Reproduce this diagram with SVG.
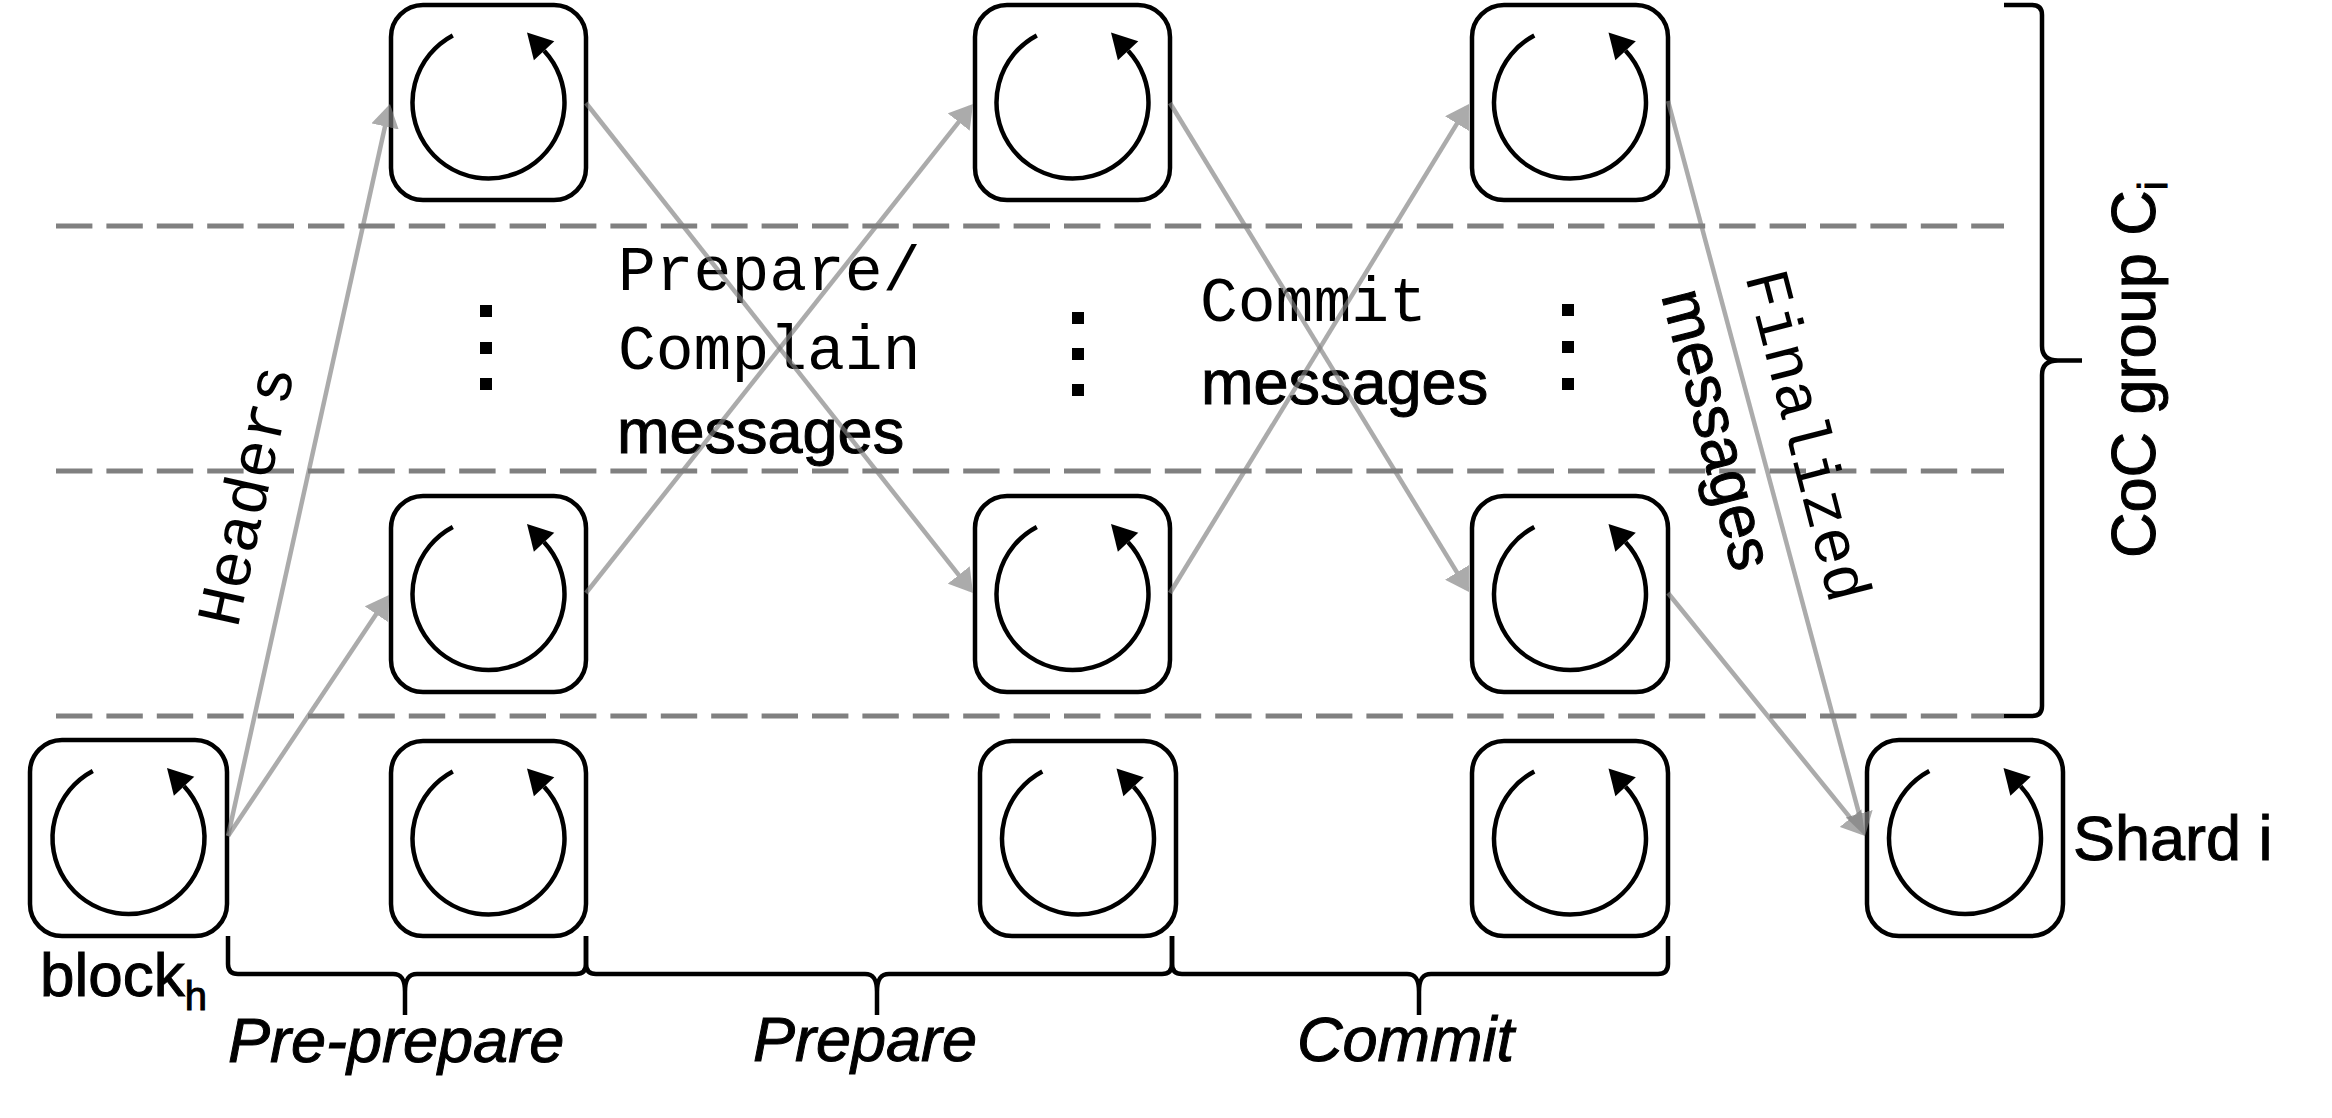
<svg xmlns="http://www.w3.org/2000/svg" xmlns:xlink="http://www.w3.org/1999/xlink" width="2332" height="1118" viewBox="0 0 2332 1118">
  <style>
    .box { fill: #fff; stroke: #000; stroke-width: 4.5; }
    .dash { stroke: #808080; stroke-width: 5; stroke-dasharray: 36.4 14; fill: none; }
    .brace { fill: none; stroke: #000; stroke-width: 4.5; stroke-linejoin: round; }
    .conn { opacity: 0.66; }
    .conn line { stroke: #808080; stroke-width: 4.5; marker-end: url(#arr); }
    .mono { font-family: "Liberation Mono", "Courier New", monospace; font-size: 63px; fill: #000; }
    .sans { font-family: "Liberation Sans", Arial, Helvetica, sans-serif; font-size: 63px; fill: #000; stroke: #000; stroke-width: 1; }
    .ital { font-style: italic; }
    .dot { fill: #000; }
  </style>
  <defs>
    <marker id="arr" markerUnits="userSpaceOnUse" viewBox="0 0 23 28" markerWidth="23" markerHeight="28" refX="19" refY="14" orient="auto">
      <path d="M0,0 L23,14 L0,28 z" fill="#808080"/>
    </marker>
    <g id="loop">
      <path d="M-35.7,-67.1 A76,76 0 1 0 55.6,-51.8" fill="none" stroke="#000" stroke-width="4.5"/>
      <polygon points="38.5,-70.1 65.8,-61.3 45.4,-42.3" fill="#000"/>
    </g>
  </defs>

  <rect x="0" y="0" width="2332" height="1118" fill="#fff"/>

  <g id="lanes">
    <line class="dash" x1="56" y1="226" x2="2004" y2="226"/>
    <line class="dash" x1="56" y1="471" x2="2004" y2="471"/>
    <line class="dash" x1="56" y1="716" x2="2004" y2="716"/>
  </g>

  <g id="node-blockh">
    <rect class="box" x="30" y="740" width="197" height="196" rx="32"/>
    <use xlink:href="#loop" href="#loop" transform="translate(128.5,838)"/>
  </g>
  <g id="node-b-top">
    <rect class="box" x="391" y="5" width="195" height="195" rx="32"/>
    <use xlink:href="#loop" href="#loop" transform="translate(488.5,102.5)"/>
  </g>
  <g id="node-b-mid">
    <rect class="box" x="391" y="496" width="195" height="196" rx="32"/>
    <use xlink:href="#loop" href="#loop" transform="translate(488.5,594)"/>
  </g>
  <g id="node-b-bot">
    <rect class="box" x="391" y="741" width="195" height="195" rx="32"/>
    <use xlink:href="#loop" href="#loop" transform="translate(488.5,838.5)"/>
  </g>
  <g id="node-c-top">
    <rect class="box" x="975" y="5" width="195" height="195" rx="32"/>
    <use xlink:href="#loop" href="#loop" transform="translate(1072.5,102.5)"/>
  </g>
  <g id="node-c-mid">
    <rect class="box" x="975" y="496" width="195" height="196" rx="32"/>
    <use xlink:href="#loop" href="#loop" transform="translate(1072.5,594)"/>
  </g>
  <g id="node-c-bot">
    <rect class="box" x="980" y="741" width="196" height="195" rx="32"/>
    <use xlink:href="#loop" href="#loop" transform="translate(1078,838.5)"/>
  </g>
  <g id="node-d-top">
    <rect class="box" x="1472" y="5" width="196" height="195" rx="32"/>
    <use xlink:href="#loop" href="#loop" transform="translate(1570,102.5)"/>
  </g>
  <g id="node-d-mid">
    <rect class="box" x="1472" y="496" width="196" height="196" rx="32"/>
    <use xlink:href="#loop" href="#loop" transform="translate(1570,594)"/>
  </g>
  <g id="node-d-bot">
    <rect class="box" x="1472" y="741" width="196" height="195" rx="32"/>
    <use xlink:href="#loop" href="#loop" transform="translate(1570,838.5)"/>
  </g>
  <g id="node-shard">
    <rect class="box" x="1867" y="740" width="196" height="196" rx="32"/>
    <use xlink:href="#loop" href="#loop" transform="translate(1965,838)"/>
  </g>

  <g id="ellipsis">
    <rect class="dot" x="480" y="305" width="12" height="12"/>
    <rect class="dot" x="480" y="342" width="12" height="12"/>
    <rect class="dot" x="480" y="378" width="12" height="12"/>
    <rect class="dot" x="1072" y="312" width="12" height="12"/>
    <rect class="dot" x="1072" y="348" width="12" height="12"/>
    <rect class="dot" x="1072" y="384" width="12" height="12"/>
    <rect class="dot" x="1562" y="304" width="12" height="12"/>
    <rect class="dot" x="1562" y="341" width="12" height="12"/>
    <rect class="dot" x="1562" y="378" width="12" height="12"/>
  </g>

  <g id="braces">
    <path class="brace" d="M228,936 L228,964 Q228,974 238,974 L393,974 C402,974 405,980 405,992 L405,1015 M405,992 C405,980 408,974 417,974 L576,974 Q586,974 586,964 L586,936"/>
    <path class="brace" d="M586,936 L586,964 Q586,974 596,974 L865,974 C874,974 877,980 877,992 L877,1015 M877,992 C877,980 880,974 889,974 L1162,974 Q1172,974 1172,964 L1172,936"/>
    <path class="brace" d="M1172,936 L1172,964 Q1172,974 1182,974 L1407,974 C1416,974 1419,980 1419,992 L1419,1015 M1419,992 C1419,980 1422,974 1431,974 L1658,974 Q1668,974 1668,964 L1668,936"/>
    <path class="brace" d="M2004,5 L2032,5 Q2042,5 2042,15 L2042,346 C2042,356 2048,360.5 2058,360.5 L2082,360.5 M2058,360.5 C2048,360.5 2042,365 2042,375 L2042,706 Q2042,716 2032,716 L2004,716"/>
  </g>

  <g id="labels">
    <text class="mono" x="618" y="290">Prepare/</text>
    <text class="mono" x="618" y="369">Complain</text>
    <text class="sans" x="617" y="453">messages</text>

    <text class="mono" x="1200" y="321">Commit</text>
    <text class="sans" x="1201" y="404">messages</text>

    <text class="mono" transform="translate(237.5,629) rotate(-77.5)">Headers</text>

    <g transform="translate(1745,276) rotate(75.5)">
      <text class="mono" x="0" y="0">Finalized</text>
      <text class="sans" x="-2" y="86">messages</text>
    </g>

    <text class="sans" x="40" y="996" style="font-size:62px">block<tspan style="font-size:40px" dy="14">h</tspan></text>
    <text class="sans" x="2073" y="860">Shard i</text>
    <text class="sans" transform="translate(2155,558) rotate(-90)">CoC group C<tspan style="font-size:40px" dy="12">i</tspan></text>

    <text class="sans ital" x="228" y="1062">Pre-prepare</text>
    <text class="sans ital" x="753" y="1061">Prepare</text>
    <text class="sans ital" x="1297" y="1061">Commit</text>
  </g>

  <g id="connectors">
    <g class="conn"><line x1="228" y1="836" x2="389.1" y2="107.9"/></g>
    <g class="conn"><line x1="228" y1="836" x2="386.8" y2="598.3"/></g>
    <g class="conn"><line x1="586" y1="103" x2="970.5" y2="589.9"/></g>
    <g class="conn"><line x1="586" y1="593" x2="970.5" y2="107.1"/></g>
    <g class="conn"><line x1="1170" y1="103" x2="1466.9" y2="588.6"/></g>
    <g class="conn"><line x1="1170" y1="593" x2="1466.9" y2="107.4"/></g>
    <g class="conn"><line x1="1668" y1="101" x2="1864" y2="832.1"/></g>
    <g class="conn"><line x1="1668" y1="593" x2="1862.5" y2="832.9"/></g>
  </g>
</svg>
